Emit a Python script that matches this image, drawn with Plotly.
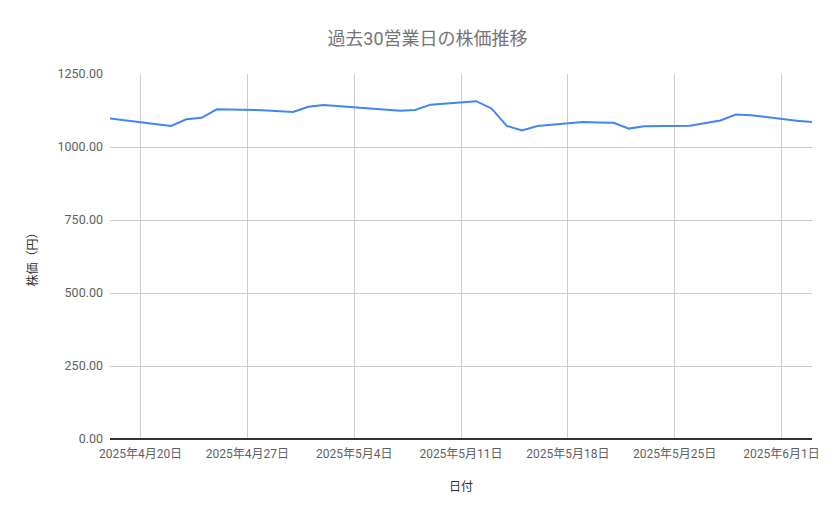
import pandas as pd
import plotly.graph_objects as go

# 過去30営業日の株価
dates = [
    "2025-04-18", "2025-04-21", "2025-04-22", "2025-04-23", "2025-04-24", "2025-04-25",
    "2025-04-28", "2025-04-30", "2025-05-01", "2025-05-02", "2025-05-07", "2025-05-08",
    "2025-05-09", "2025-05-12", "2025-05-13", "2025-05-14", "2025-05-15", "2025-05-16",
    "2025-05-19", "2025-05-20", "2025-05-21", "2025-05-22", "2025-05-23", "2025-05-26",
    "2025-05-27", "2025-05-28", "2025-05-29", "2025-05-30", "2025-06-02", "2025-06-03",
]
prices = [
    1098, 1079, 1072, 1095, 1100, 1129,
    1126, 1120, 1138, 1144, 1124, 1127,
    1145, 1157, 1132, 1072, 1057, 1072,
    1086, 1084, 1083, 1063, 1071, 1073,
    1083, 1091, 1111, 1109, 1090, 1086,
]

tick_dates = ["2025-04-20", "2025-04-27", "2025-05-04", "2025-05-11",
              "2025-05-18", "2025-05-25", "2025-06-01"]
tick_labels = ["2025年4月20日", "2025年4月27日", "2025年5月4日", "2025年5月11日",
               "2025年5月18日", "2025年5月25日", "2025年6月1日"]
y_ticks = [0, 250, 500, 750, 1000, 1250]

x = pd.to_datetime(dates)

font_family = "Roboto, Noto Sans CJK JP, sans-serif"

fig = go.Figure()
fig.add_trace(go.Scatter(
    x=x,
    y=prices,
    mode="lines",
    line=dict(color="#4285f4", width=2),
    showlegend=False,
))

# page body has an 8px margin, so pull the plot area up/left by 8px
fig.update_layout(
    width=839,
    height=519,
    margin=dict(l=102, r=35, t=66, b=88),
    paper_bgcolor="white",
    plot_bgcolor="white",
    font=dict(family=font_family, color="#5f5f5f", size=12),
    title=dict(
        text="過去30営業日の株価推移",
        x=0.5,
        xanchor="center",
        y=0.94,
        yanchor="middle",
        font=dict(size=18, color="#757575", family=font_family),
    ),
    xaxis=dict(
        range=[x[0], x[-1]],
        tickvals=pd.to_datetime(tick_dates),
        ticktext=tick_labels,
        showgrid=True,
        gridcolor="#cccccc",
        gridwidth=1,
        zeroline=False,
        showline=False,
        ticks="",
        ticklabelstandoff=6,
        tickfont=dict(size=12, color="#5f5f5f"),
        title=dict(text="日付", font=dict(size=12, color="#333333"), standoff=22),
    ),
    yaxis=dict(
        range=[0, 1250],
        tickvals=y_ticks,
        tickformat=".2f",
        showgrid=True,
        gridcolor="#cccccc",
        gridwidth=1,
        zeroline=True,
        zerolinecolor="#333333",
        zerolinewidth=1.5,
        ticks="",
        ticklabelstandoff=6,
        tickfont=dict(size=12.5, color="#5f5f5f"),
        title=dict(text="株価（円）", font=dict(size=12, color="#333333"), standoff=17),
    ),
)

fig.write_html("out.html")
